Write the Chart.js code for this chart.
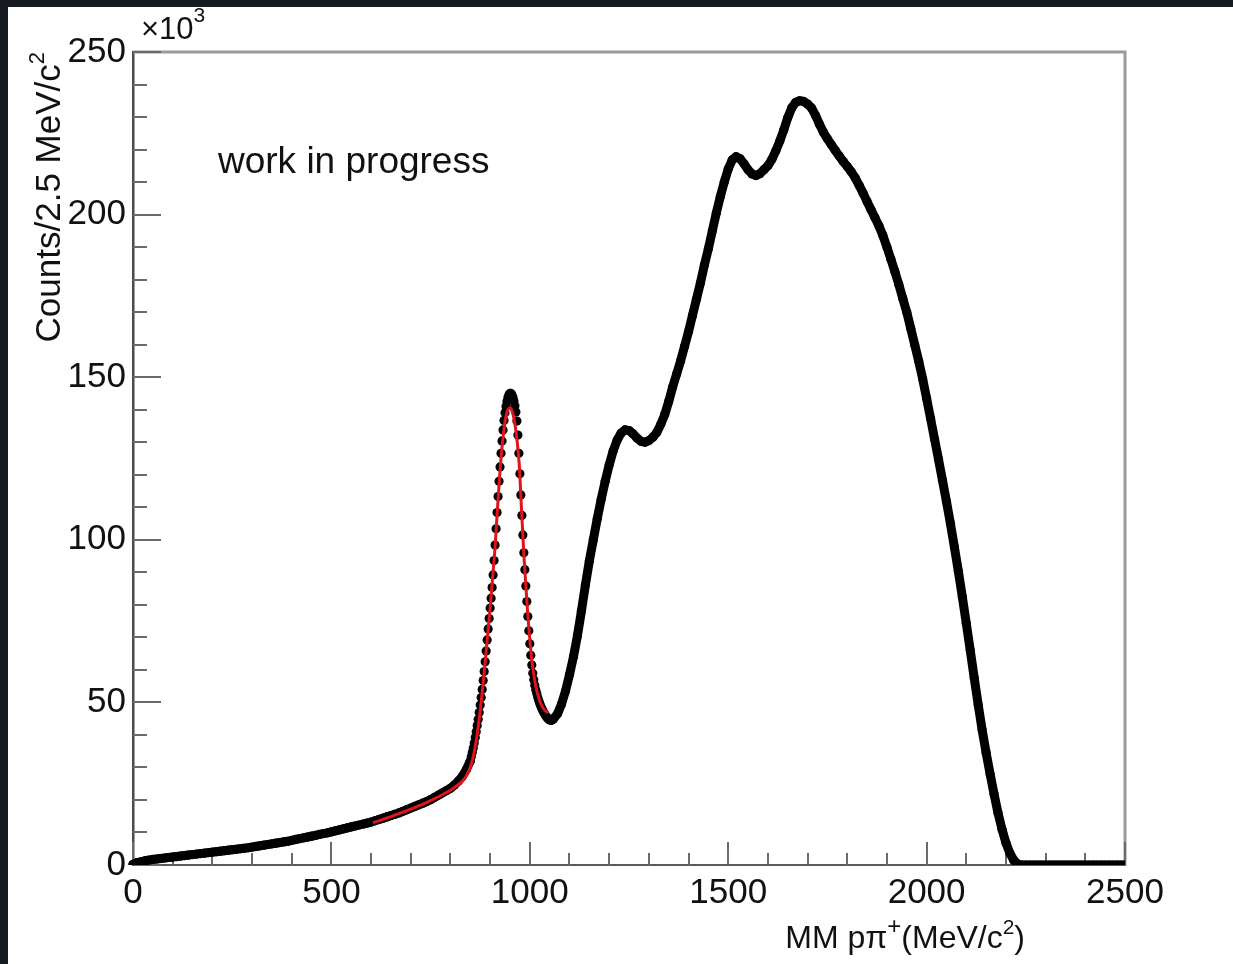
<!DOCTYPE html>
<html>
<head>
<meta charset="utf-8">
<script src="https://cdn.jsdelivr.net/npm/chart.js@4.4.1/dist/chart.umd.min.js"></script>
<style>
  html, body { margin: 0; padding: 0; width: 1233px; height: 964px; overflow: hidden; background: #161b22; }
  #sheet { position: absolute; left: 8px; top: 7px; right: 0; bottom: 0; background: #ffffff; }
  #plot { position: absolute; left: 0; top: 0; }
</style>
</head>
<body>
<div id="sheet"></div>
<canvas id="plot" width="1233" height="964"></canvas>
<script>
// Missing-mass spectrum MM(p pi+), counts per 2.5 MeV/c^2 bin, in units of 10^3.

// Smooth low-mass tail, one value every 10 MeV/c^2 starting at 0.
const tailStart = 0, tailStep = 10;
const tailCounts = [
  0.2, 0.7, 1.0, 1.3, 1.5, 1.7, 1.85, 2.0, 2.15, 2.3,
  2.45, 2.6, 2.75, 2.9, 3.05, 3.2, 3.35, 3.5, 3.65, 3.8,
  3.95, 4.1, 4.25, 4.4, 4.55, 4.7, 4.85, 5.0, 5.15, 5.3,
  5.5, 5.7, 5.9, 6.1, 6.3, 6.5, 6.7, 6.9, 7.1, 7.3,
  7.6, 7.85, 8.1, 8.35, 8.6, 8.85, 9.1, 9.4, 9.65, 9.9,
  10.2, 10.5, 10.8, 11.1, 11.4, 11.7, 12.0, 12.3, 12.6, 12.9,
  13.2, 13.6, 14.0, 14.4, 14.8, 15.2, 15.6, 16.0, 16.5, 17.0,
  17.5, 18.0, 18.5, 19.0, 19.5, 20.1, 20.8, 21.5, 22.2, 22.9,
  23.6, 24.6, 25.8, 27.3, 29.3, 32.0
];

// Neutron peak region, every 2.5 MeV/c^2 bin from 852.5 to 1060.
const peakStart = 852.5, peakStep = 2.5;
const peakCounts = [
  33.3, 34.6, 36.0, 37.5, 39.2, 41.0, 42.9, 44.8, 46.9, 49.2,
  51.5, 54.0, 56.7, 59.5, 62.5, 65.8, 69.2, 72.6, 75.8, 79.0,
  82.0, 85.3, 89.2, 93.6, 98.4, 103.4, 108.4, 113.3, 118.0, 122.4,
  126.6, 130.4, 133.8, 136.7, 139.1, 141.0, 142.6, 143.8, 144.6, 145.0,
  145.0, 144.6, 143.8, 142.7, 141.2, 139.3, 136.5, 132.2, 126.6, 120.3,
  113.8, 107.5, 101.5, 96.0, 90.8, 85.8, 81.0, 76.4, 72.0, 68.0,
  64.5, 61.5, 59.0, 57.0, 55.3, 53.9, 52.7, 51.6, 50.6, 49.7,
  48.9, 48.2, 47.5, 46.9, 46.4, 45.9, 45.5, 45.1, 44.8, 44.6,
  44.5, 44.5, 44.7, 45.0
];

// Resonance region and kinematic cut-off, every 10 MeV/c^2 from 1070 to 2500.
const bulkStart = 1070, bulkStep = 10;
const bulkCounts = [
  46.5, 49.5, 53.5, 58.5, 64.0, 70.5, 78.0, 86.0, 93.5, 100.0,
  106.5, 112.5, 118.0, 123.0, 127.3, 130.6, 132.8, 133.8, 133.6, 132.6,
  131.3, 130.3, 130.0, 130.5, 131.5, 133.0, 135.5, 138.5, 142.5, 147.0,
  151.0, 155.0, 159.5, 164.0, 169.0, 174.0, 179.0, 184.5, 189.5, 195.0,
  200.5, 205.5, 210.0, 214.0, 216.8, 217.8, 217.2, 215.6, 213.8, 212.5,
  212.0, 212.6, 213.8, 215.0, 217.0, 219.6, 222.6, 226.0, 229.8, 232.8,
  234.5, 235.0, 234.8, 234.0, 232.8, 230.5, 227.8, 225.3, 223.3, 221.5,
  219.7, 218.0, 216.3, 214.8, 213.2, 211.3, 209.0, 206.6, 204.0, 201.5,
  199.0, 196.5, 193.5, 190.0, 186.3, 182.5, 178.5, 174.2, 170.0, 165.0,
  160.0, 155.0, 149.5, 143.5, 137.3, 131.0, 124.7, 118.3, 111.8, 105.0,
  97.8, 90.3, 82.5, 74.3, 66.0, 57.5, 49.3, 41.5, 34.5, 28.0,
  21.8, 16.0, 11.0, 6.8, 3.6, 1.4, 0.3, 0, 0, 0,
  0, 0, 0, 0, 0, 0, 0, 0, 0, 0,
  0, 0, 0, 0, 0, 0, 0, 0, 0, 0,
  0, 0, 0, 0
];

// Fit curve over the neutron peak.
const fitMass = [
  605, 625, 650, 675, 700, 725, 750, 775, 800, 815,
  830, 840, 850, 857, 864, 870, 876, 882, 888, 894,
  900, 906, 912, 918, 924, 930, 936, 940, 944, 948,
  951, 954, 958, 962, 966, 970, 974, 978, 982, 986,
  990, 995, 1000, 1005, 1010, 1015, 1020, 1025, 1030, 1035,
  1040, 1047
];
const fitCounts = [
  13.0, 13.8, 14.9, 16.0, 17.2, 18.4, 19.8, 21.3, 23.0, 24.2,
  25.8, 27.4, 30.0, 33.0, 37.5, 42.5, 48.5, 55.5, 63.0, 71.0,
  79.0, 88.0, 97.0, 108.5, 119.5, 128.5, 135.0, 138.0, 139.8, 140.5,
  140.5, 140.0, 138.5, 136.0, 132.5, 128.0, 122.0, 112.0, 102.5, 93.5,
  86.0, 77.0, 69.5, 63.0, 58.5, 55.0, 52.5, 50.5, 49.0, 48.0,
  47.3, 46.8
];

// Axis ticks.
const xTickValues = [0, 500, 1000, 1500, 2000, 2500];
const yTickValues = [0, 50, 100, 150, 200, 250];
const xMinorStep = 100;
const yMinorStep = 10;

const FAMILY = '"Liberation Sans", Arial, Helvetica, sans-serif';

function toPoints(start, step, counts) {
  return counts.map((c, i) => ({ x: start + i * step, y: c }));
}
const histPoints = []
  .concat(toPoints(tailStart, tailStep, tailCounts))
  .concat(toPoints(peakStart, peakStep, peakCounts))
  .concat(toPoints(bulkStart, bulkStep, bulkCounts));
const fitPoints = fitMass.map((m, i) => ({ x: m, y: fitCounts[i] }));

// Draws a run of text pieces with different sizes / raises (for superscripts).
function drawRuns(ctx, runs, x, y, align) {
  let total = 0;
  for (const r of runs) {
    ctx.font = r.size + 'px ' + FAMILY;
    r.w = ctx.measureText(r.text).width;
    total += r.w;
  }
  let cx = align === 'right' ? x - total : x;
  ctx.textAlign = 'left';
  ctx.textBaseline = 'alphabetic';
  for (const r of runs) {
    ctx.font = r.size + 'px ' + FAMILY;
    ctx.fillText(r.text, cx, y - (r.rise || 0));
    cx += r.w;
  }
}

// Frame, inward tick marks and free text in the ROOT style.
const rootDecor = {
  id: 'rootDecor',
  beforeDatasetsDraw(chart) {
    const ctx = chart.ctx;
    const a = chart.chartArea;
    const xs = chart.scales.x, ys = chart.scales.y;
    ctx.save();
    // top and right frame lines
    ctx.strokeStyle = '#9a9a9a';
    ctx.lineWidth = 3;
    ctx.beginPath();
    ctx.moveTo(a.left, a.top);
    ctx.lineTo(a.right, a.top);
    ctx.lineTo(a.right, a.bottom);
    ctx.stroke();
    // ticks
    ctx.strokeStyle = '#6a6a6a';
    ctx.lineWidth = 2;
    ctx.beginPath();
    for (let v = xs.min; v <= xs.max + 1e-6; v += xMinorStep) {
      const px = Math.round(xs.getPixelForValue(v));
      const len = xTickValues.includes(v) ? 23 : 12;
      ctx.moveTo(px, a.bottom);
      ctx.lineTo(px, a.bottom - len);
    }
    for (let v = ys.min; v <= ys.max + 1e-6; v += yMinorStep) {
      const py = Math.round(ys.getPixelForValue(v));
      const len = yTickValues.includes(v) ? 28 : 14;
      ctx.moveTo(a.left, py);
      ctx.lineTo(a.left + len, py);
    }
    ctx.stroke();
    ctx.restore();
  },
  afterDraw(chart) {
    const ctx = chart.ctx;
    ctx.save();
    ctx.fillStyle = '#111111';
    // exponent of the y axis
    drawRuns(ctx, [
      { text: '\u00d710', size: 31 },
      { text: '3', size: 21, rise: 17 }
    ], 141, 39, 'left');
    // label inside the frame
    drawRuns(ctx, [{ text: 'work in progress', size: 37 }], 218, 173, 'left');
    // x axis title
    drawRuns(ctx, [
      { text: 'MM p\u03c0', size: 32 },
      { text: '+', size: 24, rise: 14 },
      { text: '(MeV/c', size: 32 },
      { text: '2', size: 21, rise: 14 },
      { text: ')', size: 32 }
    ], 1025, 948, 'right');
    // y axis title (rotated)
    ctx.translate(60, 52);
    ctx.rotate(-Math.PI / 2);
    drawRuns(ctx, [
      { text: 'Counts/2.5 MeV/c', size: 35 },
      { text: '2', size: 22, rise: 16 }
    ], 0, 0, 'right');
    ctx.restore();
  }
};

new Chart(document.getElementById('plot'), {
  type: 'scatter',
  data: {
    datasets: [
      {
        label: 'fit',
        data: fitPoints,
        showLine: true,
        borderColor: '#e0141b',
        borderWidth: 3,
        pointRadius: 0,
        tension: 0.3,
        order: 0
      },
      {
        label: 'data',
        data: histPoints,
        showLine: true,
        borderColor: '#000000',
        borderWidth: 9,
        borderCapStyle: 'round',
        borderJoinStyle: 'round',
        pointRadius: 4.6,
        pointBorderWidth: 0,
        pointBackgroundColor: '#000000',
        segment: {
          // the 2.5 MeV binned stretch is drawn as separate markers only
          borderColor: c => (c.p1.parsed.x - c.p0.parsed.x) < 5 ? 'rgba(0,0,0,0)' : '#000000'
        },
        clip: { left: 6, top: 6, right: 0, bottom: 0 },
        order: 1
      }
    ]
  },
  options: {
    responsive: false,
    animation: false,
    events: [],
    layout: { padding: { left: 0, top: 52, right: 108, bottom: 0 } },
    plugins: { legend: { display: false }, tooltip: { enabled: false } },
    scales: {
      x: {
        type: 'linear',
        min: 0,
        max: 2500,
        afterBuildTicks: s => { s.ticks = xTickValues.map(v => ({ value: v })); },
        afterFit: s => { s.height = 99; },
        grid: { display: false, drawTicks: false, tickLength: 0 },
        border: { display: true, color: '#5a5a5a', width: 2 },
        ticks: {
          font: { family: FAMILY, size: 35 },
          color: '#111111',
          padding: 7,
          maxRotation: 0,
          autoSkip: false,
          callback: v => String(v)
        }
      },
      y: {
        type: 'linear',
        min: 0,
        max: 250,
        afterBuildTicks: s => { s.ticks = yTickValues.map(v => ({ value: v })); },
        afterFit: s => { s.width = 133; },
        grid: { display: false, drawTicks: false, tickLength: 0 },
        border: { display: true, color: '#4a4a4a', width: 2.5 },
        ticks: {
          font: { family: FAMILY, size: 35 },
          color: '#111111',
          padding: 7,
          autoSkip: false,
          callback: v => String(v)
        }
      }
    }
  },
  plugins: [rootDecor]
});
</script>
</body>
</html>
